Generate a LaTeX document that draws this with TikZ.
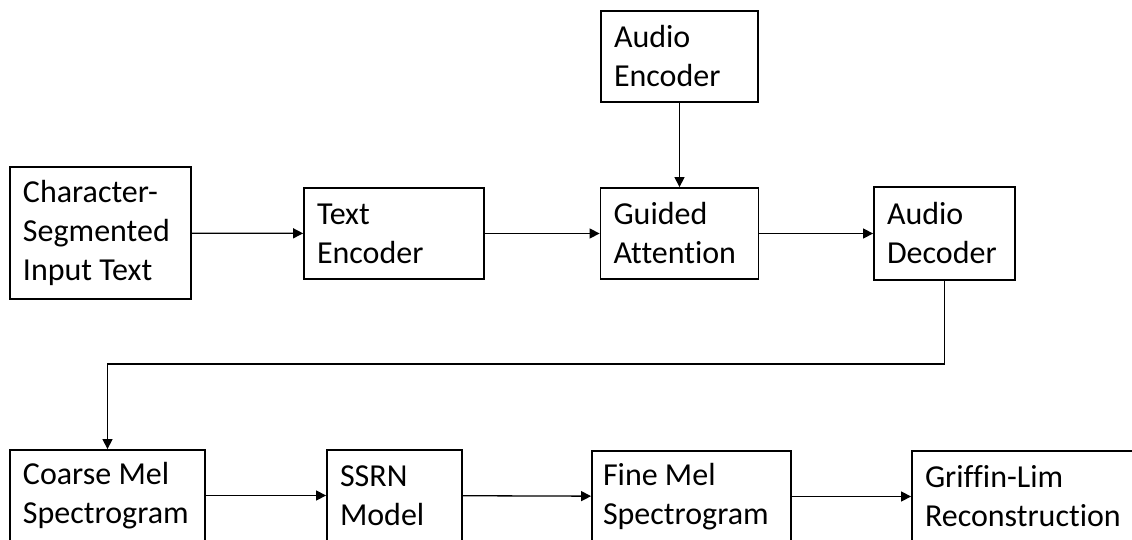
\documentclass[tikz,border=0pt]{standalone}
\usepackage{fontspec}
\setmainfont{Carlito}[Ligatures=NoCommon]
\usetikzlibrary{arrows.meta}

\begin{document}
\begin{tikzpicture}[
  x=1pt, y=-1pt,
  block/.style={rectangle, draw, line width=1.8pt, align=flush left,
                inner xsep=13pt, inner ysep=0pt,
                font=\fontsize{32}{39}\selectfont},
  arrow/.style={-{Triangle[length=10pt,width=10pt]}, line width=1.3pt}
]
\useasboundingbox (0,0) rectangle (1132,540);

% Top row: text to audio decoder
\node[block, text width=155pt, minimum height=132pt] (char) at (100.5,233)
  {Character-\\Segmented\\Input Text};
\node[block, text width=154pt, minimum height=91pt] (textenc) at (394,233.5)
  {Text\\Encoder};
\node[block, text width=131pt, minimum height=91pt] (audioenc) at (679.5,56.5)
  {Audio\\Encoder};
\node[block, text width=132pt, minimum height=91pt] (attn) at (679.5,233.5)
  {Guided\\Attention};
\node[block, text width=115pt, minimum height=93pt] (audiodec) at (944.5,233.5)
  {Audio\\Decoder};

% Bottom row: spectrograms
\node[block, text width=169pt, minimum height=91pt] (coarse) at (107.5,495.5)
  {Coarse Mel\\Spectrogram};
\node[block, text width=109pt, minimum height=91pt] (ssrn) at (394.5,495.5)
  {SSRN\\Model};
\node[block, text width=177pt, minimum height=91pt, inner xsep=11pt] (fine) at (691.5,496.5)
  {Fine Mel\\Spectrogram};
\node[block, text width=212pt, minimum height=91pt] (griffin) at (1031,496.5)
  {Griffin-Lim\\Reconstruction};

\coordinate (turn) at (107.5,364);

% Arrows
\draw[arrow] (char) -- (textenc);
\draw[arrow] (textenc) -- (attn);
\draw[arrow] (audioenc) -- (attn);
\draw[arrow] (attn) -- (audiodec);
\draw[arrow] (audiodec) |- (turn) -- (coarse);
\draw[arrow] (coarse) -- (ssrn);
\draw[arrow] (ssrn) -- (fine);
\draw[arrow] (fine) -- (griffin);

\end{tikzpicture}
\end{document}
